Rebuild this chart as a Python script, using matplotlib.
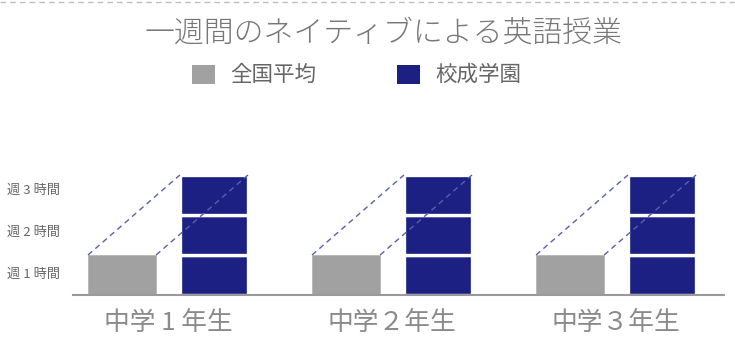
#!/usr/bin/env python3
"""
Weekly native-speaker English lessons: national average vs. the school.
"""

import matplotlib
matplotlib.use("Agg")
import matplotlib.pyplot as plt
from matplotlib.lines import Line2D
from matplotlib.patches import Rectangle

plt.rcParams['font.family'] = ['Noto Sans CJK JP', 'DejaVu Sans']

# Data
grades = ['中学 1 年生', '中学２年生', '中学３年生']
national_hours = [1, 1, 1]
school_hours = [3, 3, 3]
series_names = ['全国平均', '校成学園']
hour_ticks = [0.55, 1.6, 2.65]
hour_labels = ['週 1 時間', '週 2 時間', '週 3 時間']
title = '一週間のネイティブによる英語授業'

GREY = '#a0a1a0'
NAVY = '#1c2083'
DASH = '#5a5fae'

W, H = 735, 351
fig = plt.figure(figsize=(W / 100, H / 100), dpi=100)

# axes placed so that the baseline sits where the reference has it
ax = fig.add_axes([73 / W, (H - 295) / H, 651 / W, 128 / H])
ax.set_xlim(-0.424, 2.482)
ax.set_ylim(0, 3.2)

width = 0.304
offset = 0.205
x = list(range(len(grades)))

for i, (g, s) in enumerate(zip(national_hours, school_hours)):
    gx = i - offset
    sx = i + offset
    ax.bar(gx, g, width=width, color=GREY, edgecolor='#b4b5b4', linewidth=0.6, zorder=2)
    # stacked one-hour blocks with white gaps
    for h in range(s):
        ax.bar(sx, 1, bottom=h, width=width, color=NAVY, edgecolor='white',
               linewidth=2.4, zorder=2)
    # dashed guide lines from grey top corners to navy top corners
    for side in (-1, 1):
        ax.plot([gx + side * width / 2, sx + side * width / 2], [g, s],
                color=DASH, linewidth=1.0, linestyle=(0, (4, 3)), zorder=3)

# Styling
for sp in ['top', 'right', 'left']:
    ax.spines[sp].set_visible(False)
ax.spines['bottom'].set_color('#9a9a9a')
ax.spines['bottom'].set_linewidth(1.5)
ax.spines['bottom'].set_zorder(4)

ax.set_xticks(x)
ax.set_xticklabels(grades, fontsize=18.5, color='#8a8a8a')
ax.tick_params(axis='x', length=0, pad=11)
ax.set_yticks(hour_ticks)
ax.set_yticklabels(hour_labels, fontsize=9.5, color='#666666')
ax.tick_params(axis='y', length=0, pad=9)

# Title
fig.text(384 / W, 1 - 33 / H, title, ha='center', va='center',
         fontsize=21.5, color='#777777', fontweight='light')

# Legend, drawn by hand
legend_boxes = [192, 397]
for bx, name, col in zip(legend_boxes, series_names, [GREY, NAVY]):
    fig.patches.append(Rectangle((bx / W, 1 - 84 / H), 23 / W, 19 / H,
                                 transform=fig.transFigure, facecolor=col,
                                 edgecolor='none'))
    fig.text((bx + 38) / W, 1 - 75 / H, name, ha='left', va='center',
             fontsize=15.5, color='#666666')

# dashed rule along the top edge
fig.lines.append(Line2D([0, 1], [1 - 2 / H, 1 - 2 / H], transform=fig.transFigure,
                        color='#bdbdbd', linewidth=1.0, linestyle=(0, (4, 3))))

plt.savefig('out.png', dpi=100)
